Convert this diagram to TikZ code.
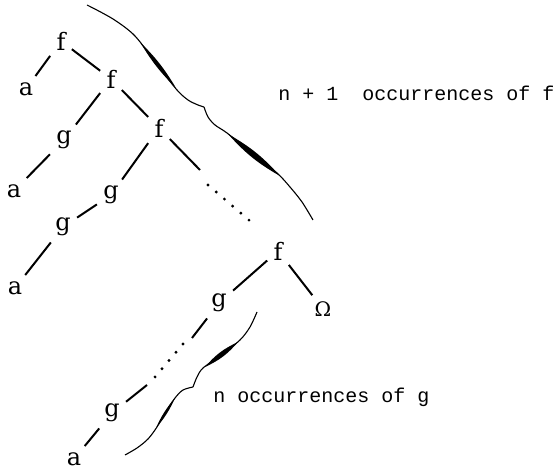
\documentclass[tikz,border=0pt]{standalone}
\usepackage{fontspec}
\setmainfont{DejaVu Serif}
\setmonofont{Liberation Mono}
\usetikzlibrary{calc}
\tikzset{
  lt/.style={inner sep=3pt,font=\fontsize{12}{14}\selectfont},
  edge/.style={line width=1pt},
  dotline/.style={line width=1.6pt,line cap=round,dash pattern=on 0pt off 5.4pt},
  brc/.style={line width=0.55pt},
  lbl/.style={font=\ttfamily\fontsize{10}{12}\selectfont,anchor=base west,inner sep=0pt},
}
\newcommand{\brlens}[3]{\fill (#1) to[bend left=#3] (#2) to[bend left=#3] (#1);}

\begin{document}
\begin{tikzpicture}[x=0.5pt,y=-0.5pt]
\useasboundingbox (0,0) rectangle (556,469);

% upper part of the term
\node[lt] (f1) at (61,41) {f};
\node[lt] (a1) at (26,89) {a};
\node[lt] (f2) at (111,79) {f};
\node[lt] (g1) at (64,140) {g};
\node[lt] (f3) at (159,128) {f};
\node[lt] (a2) at (14,191) {a};
\node[lt] (g2) at (111,195) {g};
\node[lt] (g3) at (63,227) {g};
\node[lt] (a3) at (15,288) {a};

% lower part of the term
\node[lt] (f4) at (278,251) {f};
\node[lt] (g4) at (219,303) {g};
\node[lt,font=\fontsize{10}{11}\selectfont] (om) at (323,309) {Ω};
\node[lt] (g5) at (112,413) {g};
\node[lt] (a4) at (74,459) {a};

\foreach \a/\b in {f1/a1,f1/f2,f2/g1,f2/f3,g1/a2,f3/g2,g2/g3,g3/a3,f4/g4,f4/om,g5/a4}
  \draw[edge] (\a) -- (\b);

% elided parts
\coordinate (e3) at (200,170);
\draw[edge] (f3) -- (e3);
\draw[dotline] (208,185) -- (250,221);
\coordinate (p1) at (192,338);
\coordinate (p4) at (147,385);
\draw[edge] (g4) -- (p1);
\draw[dotline] (183,344) -- (155,377);
\draw[edge] (p4) -- (g5);

% brace for the f's
\draw[brc] plot[smooth] coordinates {(87,5) (113,19) (135,36) (158,66) (177,90) (188,100) (198,105) (204,107)};
\draw[brc] plot[smooth] coordinates {(204,107) (208,117) (215,125) (227,133) (252,153) (277,173) (290,187) (302,202) (313,220)};
\brlens{140,42}{176,88}{7}
\brlens{228,134}{280,176}{9}
\node[lbl] (lblf) at (278,101) {n + 1\ \ occurrences of f};

% brace for the g's
\draw[brc] plot[smooth] coordinates {(257,312) (250,327) (240,340) (220,356) (203,368) (197,377) (193,387)};
\draw[brc] plot[smooth] coordinates {(193,387) (183,390) (175,398) (165,413) (157,427) (148,439) (137,448) (125,455)};
\brlens{238,342}{205,367}{12}
\brlens{175,398}{156,428}{8}
\node[lbl] (lblg) at (213,403) {n occurrences of g};
\end{tikzpicture}
\end{document}
